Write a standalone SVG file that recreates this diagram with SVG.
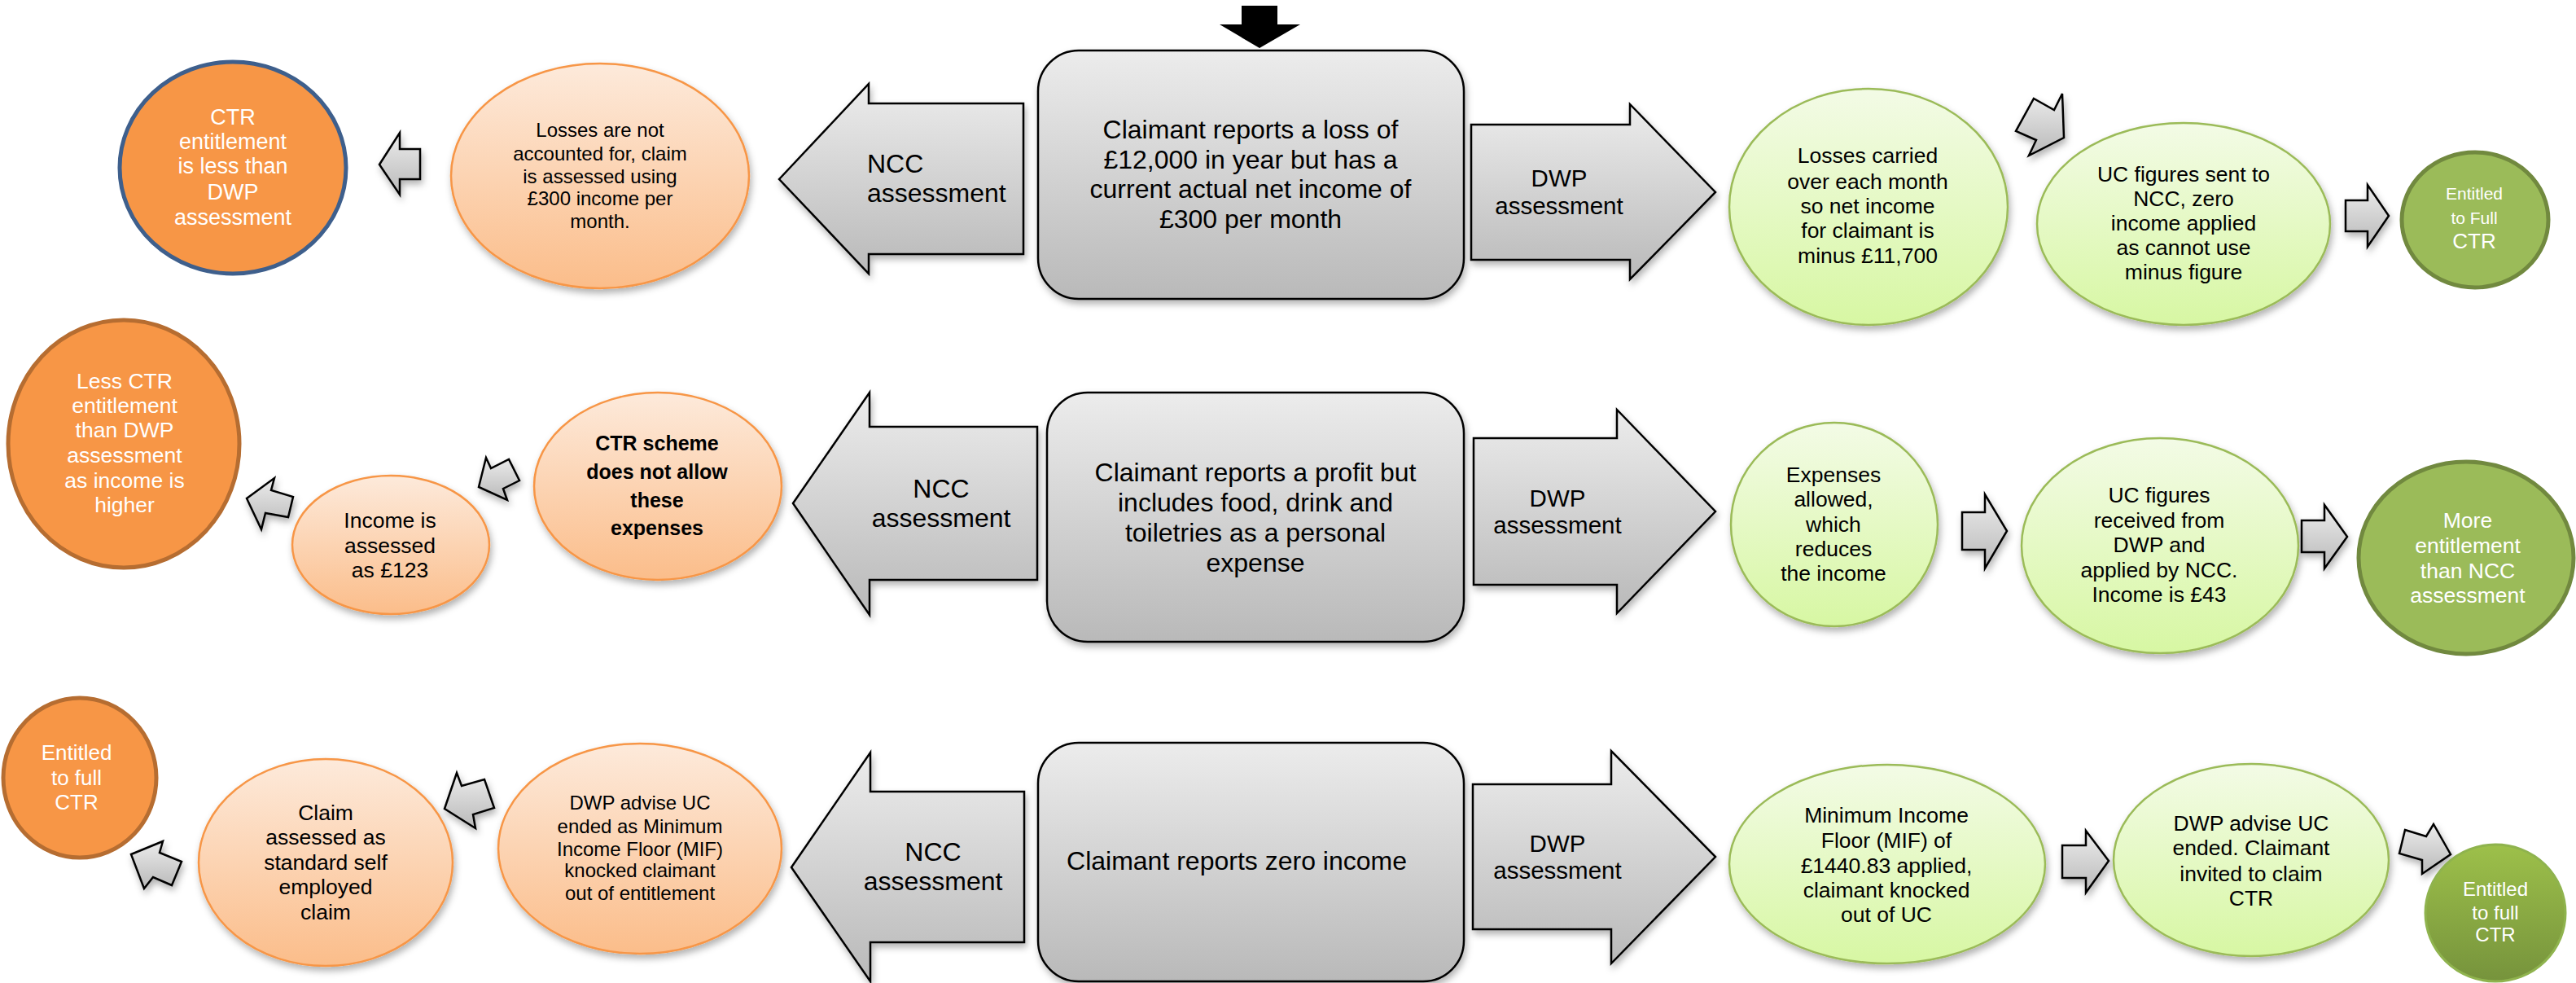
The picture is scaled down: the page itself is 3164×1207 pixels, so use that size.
<svg xmlns="http://www.w3.org/2000/svg" width="3164" height="1207" viewBox="0 0 3164 1207">
<defs>
<linearGradient id="gGray" x1="0" y1="0" x2="0" y2="1"><stop offset="0" stop-color="#ececec"/><stop offset="1" stop-color="#b9b9b9"/></linearGradient>
<linearGradient id="gPeach" x1="0" y1="0" x2="0" y2="1"><stop offset="0" stop-color="#fdeadb"/><stop offset="1" stop-color="#fbbd8a"/></linearGradient>
<linearGradient id="gLime" x1="0" y1="0" x2="0" y2="1"><stop offset="0" stop-color="#f3fbe6"/><stop offset="1" stop-color="#d7f7a3"/></linearGradient>
<linearGradient id="gOlive" x1="0" y1="0" x2="0" y2="1"><stop offset="0" stop-color="#9dc04a"/><stop offset="1" stop-color="#76933c"/></linearGradient>
<filter id="sh" x="-20%" y="-20%" width="140%" height="150%"><feDropShadow dx="2" dy="5" stdDeviation="4" flood-color="#000" flood-opacity="0.3"/></filter>
</defs>
<style>
.gray{fill:url(#gGray);stroke:#000;stroke-width:2.5;stroke-linejoin:miter}
.peach{fill:url(#gPeach);stroke:#f79646;stroke-width:2.5}
.lime{fill:url(#gLime);stroke:#9bbb59;stroke-width:2.5}
.org{fill:#f79646;stroke:#b66d31;stroke-width:5}
.grn{fill:#9bbb59;stroke:#71893f;stroke-width:5}
.t{font-family:"Liberation Sans",Arial,sans-serif;text-anchor:middle;fill:#000}
.w{fill:#fff}
.s24{font-size:24px}.s26{font-size:26.5px}.s32{font-size:32px}.s29{font-size:29.5px}
</style>
<rect width="3164" height="1207" fill="#fff"/>

<g id="connectors">
<polygon points="1525,7 1569,7 1569,30 1597,30 1547,59 1498,30 1525,30" fill="#000"/>
<g filter="url(#sh)">
<polygon class="gray" points="957,220 1067,103 1067,127 1257,127 1257,312 1067,312 1067,336"/>
<polygon class="gray" points="1807,153 2002,153 2002,128 2107,236 2002,343 2002,319 1807,319"/>
<polygon class="gray" points="974,618 1068,482 1068,524 1274,524 1274,712 1068,712 1068,755"/>
<polygon class="gray" points="1810,538 1986,538 1986,503 2107,628 1986,753 1986,718 1810,718"/>
<polygon class="gray" points="972,1065 1069,924 1069,972 1258,972 1258,1157 1069,1157 1069,1205"/>
<polygon class="gray" points="1809,963 1979,963 1979,922 2107,1052 1979,1183 1979,1141 1809,1141"/>
<polygon class="gray" points="466,202 491,163 491,183 516,183 516,220 491,220 491,239"/>
<polygon class="gray" points="2498,121 2523,135 2533,115 2535,169 2492,191 2501,172 2476,161"/>
<polygon class="gray" points="2881,246 2908,246 2908,227 2934,265 2908,303 2908,284 2881,284"/>
<polygon class="gray" points="303,612 337,587 333,602 360,610 354,635 326,630 321,650"/>
<polygon class="gray" points="588,598 597,562 603,575 625,564 638,590 618,600 623,614"/>
<polygon class="gray" points="2410,629 2438,629 2438,607 2465,652 2438,698 2438,675 2410,675"/>
<polygon class="gray" points="2827,639 2855,639 2855,620 2883,659 2855,698 2855,678 2827,678"/>
<polygon class="gray" points="161,1049 200,1033 196,1047 223,1058 211,1087 188,1077 177,1091"/>
<polygon class="gray" points="546,993 561,949 567,965 595,957 607,992 581,1000 584,1017"/>
<polygon class="gray" points="2533,1038 2562,1038 2562,1020 2590,1057 2562,1096 2562,1078 2533,1078"/>
<polygon class="gray" points="2954,1019 2980,1027 2989,1012 3010,1049 2975,1073 2975,1056 2947,1048"/>
</g>
<g class="t">
<text class="s32" x="1065" y="212" style="text-anchor:start">NCC</text>
<text class="s32" x="1065" y="248" style="text-anchor:start">assessment</text>
<text class="s29" x="1915" y="229">DWP</text>
<text class="s29" x="1915" y="263">assessment</text>
<text class="s32" x="1156" y="611">NCC</text>
<text class="s32" x="1156" y="647">assessment</text>
<text class="s29" x="1913" y="622">DWP</text>
<text class="s29" x="1913" y="655">assessment</text>
<text class="s32" x="1146" y="1057">NCC</text>
<text class="s32" x="1146" y="1093">assessment</text>
<text class="s29" x="1913" y="1046">DWP</text>
<text class="s29" x="1913" y="1079">assessment</text>
</g>
</g>

<!-- Row 1 -->
<g id="main1">
<rect class="gray" x="1275" y="62" width="523" height="305" rx="50" ry="50" filter="url(#sh)"/>
<g class="t s32"><text x="1536" y="170">Claimant reports a loss of</text><text x="1536" y="207">£12,000 in year but has a</text><text x="1536" y="243">current actual net income of</text><text x="1536" y="280">£300 per month</text></g>
</g>
<g id="ctr1">
<ellipse cx="286" cy="206" rx="139" ry="130" fill="#f79646" stroke="#3e5f8c" stroke-width="5"/>
<g class="t w" style="font-size:27px"><text x="286" y="153">CTR</text><text x="286" y="183">entitlement</text><text x="286" y="213">is less than</text><text x="286" y="245">DWP</text><text x="286" y="276">assessment</text></g>
</g>
<g id="losses1">
<ellipse class="peach" cx="737" cy="216" rx="183" ry="138" filter="url(#sh)"/>
<g class="t s24"><text x="737" y="168">Losses are not</text><text x="737" y="197">accounted for, claim</text><text x="737" y="225">is assessed using</text><text x="737" y="252">£300 income per</text><text x="737" y="280">month.</text></g>
</g>
<g id="carried1">
<ellipse class="lime" cx="2295" cy="254" rx="171" ry="145" filter="url(#sh)"/>
<g class="t s26"><text x="2294" y="200">Losses carried</text><text x="2294" y="232">over each month</text><text x="2294" y="262">so net income</text><text x="2294" y="292">for claimant is</text><text x="2294" y="323">minus £11,700</text></g>
</g>
<g id="ucfig1">
<ellipse class="lime" cx="2682" cy="275" rx="180" ry="124" filter="url(#sh)"/>
<g class="t s26"><text x="2682" y="223">UC figures sent to</text><text x="2682" y="253">NCC, zero</text><text x="2682" y="283">income applied</text><text x="2682" y="313">as cannot use</text><text x="2682" y="343">minus figure</text></g>
</g>
<g id="entitled1">
<ellipse class="grn" cx="3040" cy="270" rx="90" ry="83"/>
<g class="t w"><text x="3039" y="245" style="font-size:21px">Entitled</text><text x="3039" y="275" style="font-size:21px">to Full</text><text x="3039" y="305" style="font-size:26px">CTR</text></g>
</g>

<!-- Row 2 -->
<g id="main2">
<rect class="gray" x="1286" y="482" width="512" height="306" rx="50" ry="50" filter="url(#sh)"/>
<g class="t s32"><text x="1542" y="591">Claimant reports a profit but</text><text x="1542" y="628">includes food, drink and</text><text x="1542" y="665">toiletries as a personal</text><text x="1542" y="702">expense</text></g>
</g>
<g id="less2">
<ellipse class="org" cx="152" cy="545" rx="142" ry="152"/>
<g class="t w s26"><text x="153" y="477">Less CTR</text><text x="153" y="507">entitlement</text><text x="153" y="537">than DWP</text><text x="153" y="568">assessment</text><text x="153" y="599">as income is</text><text x="153" y="629">higher</text></g>
</g>
<g id="income2">
<ellipse class="peach" cx="480" cy="669" rx="121" ry="85" filter="url(#sh)"/>
<g class="t s26"><text x="479" y="648">Income is</text><text x="479" y="679">assessed</text><text x="479" y="709">as £123</text></g>
</g>
<g id="scheme2">
<ellipse class="peach" cx="808" cy="597" rx="152" ry="115" filter="url(#sh)"/>
<g class="t" style="font-size:25px;font-weight:bold"><text x="807" y="553">CTR scheme</text><text x="807" y="588">does not allow</text><text x="807" y="623">these</text><text x="807" y="657">expenses</text></g>
</g>
<g id="expenses2">
<ellipse class="lime" cx="2253" cy="644" rx="127" ry="125" filter="url(#sh)"/>
<g class="t s26"><text x="2252" y="592">Expenses</text><text x="2252" y="622">allowed,</text><text x="2252" y="653">which</text><text x="2252" y="683">reduces</text><text x="2252" y="713">the income</text></g>
</g>
<g id="ucfig2">
<ellipse class="lime" cx="2653" cy="670" rx="170" ry="132" filter="url(#sh)"/>
<g class="t s26"><text x="2652" y="617">UC figures</text><text x="2652" y="648">received from</text><text x="2652" y="678">DWP and</text><text x="2652" y="709">applied by NCC.</text><text x="2652" y="739">Income is £43</text></g>
</g>
<g id="more2">
<ellipse class="grn" cx="3029" cy="685" rx="132" ry="118"/>
<g class="t w s26"><text x="3031" y="648">More</text><text x="3031" y="679">entitlement</text><text x="3031" y="710">than NCC</text><text x="3031" y="740">assessment</text></g>
</g>

<!-- Row 3 -->
<g id="main3">
<rect class="gray" x="1275" y="912" width="523" height="293" rx="50" ry="50" filter="url(#sh)"/>
<text class="t s32" x="1519" y="1068">Claimant reports zero income</text>
</g>
<g id="entitled3a">
<ellipse class="org" cx="98" cy="955" rx="94" ry="98"/>
<g class="t w" style="font-size:26px"><text x="94" y="933">Entitled</text><text x="94" y="964">to full</text><text x="94" y="994">CTR</text></g>
</g>
<g id="claim3">
<ellipse class="peach" cx="400" cy="1059" rx="156" ry="127" filter="url(#sh)"/>
<g class="t s26"><text x="400" y="1007">Claim</text><text x="400" y="1037">assessed as</text><text x="400" y="1068">standard self</text><text x="400" y="1098">employed</text><text x="400" y="1129">claim</text></g>
</g>
<g id="dwpadv3">
<ellipse class="peach" cx="786" cy="1042" rx="174" ry="129" filter="url(#sh)"/>
<g class="t s24"><text x="786" y="994">DWP advise UC</text><text x="786" y="1023">ended as Minimum</text><text x="786" y="1051">Income Floor (MIF)</text><text x="786" y="1077">knocked claimant</text><text x="786" y="1105">out of entitlement</text></g>
</g>
<g id="minimum3">
<ellipse class="lime" cx="2318" cy="1061" rx="194" ry="122" filter="url(#sh)"/>
<g class="t s26"><text x="2317" y="1010">Minimum Income</text><text x="2317" y="1041">Floor (MIF) of</text><text x="2317" y="1072">£1440.83 applied,</text><text x="2317" y="1102">claimant knocked</text><text x="2317" y="1132">out of UC</text></g>
</g>
<g id="dwpadv3b">
<ellipse class="lime" cx="2765" cy="1056" rx="169" ry="118" filter="url(#sh)"/>
<g class="t s26"><text x="2765" y="1020">DWP advise UC</text><text x="2765" y="1050">ended. Claimant</text><text x="2765" y="1082">invited to claim</text><text x="2765" y="1112">CTR</text></g>
</g>
<g id="entitled3b">
<ellipse cx="3065" cy="1121" rx="86" ry="84" fill="url(#gOlive)" stroke="#8fb34e" stroke-width="3"/>
<g class="t w s24"><text x="3065" y="1100">Entitled</text><text x="3065" y="1129">to full</text><text x="3065" y="1156">CTR</text></g>
</g>
</svg>
